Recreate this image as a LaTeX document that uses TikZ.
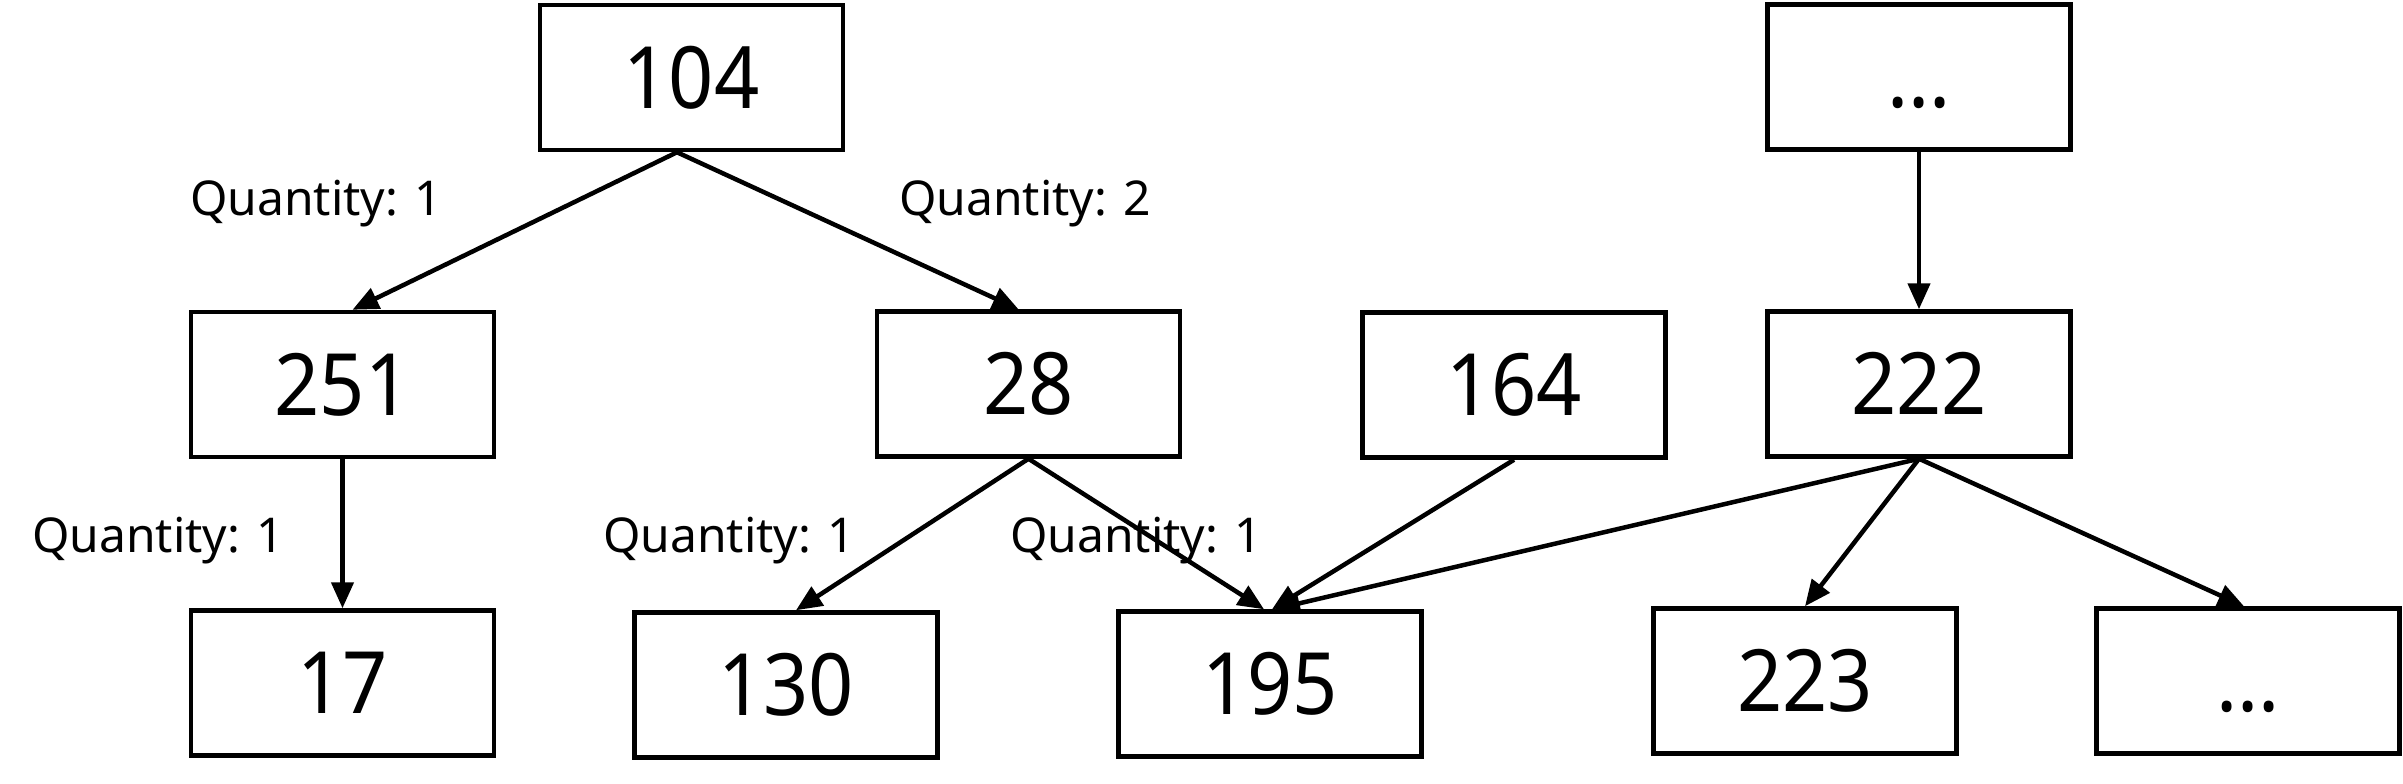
\documentclass[tikz,border=0pt]{standalone}
\usepackage{fontspec}
\setmainfont{Noto Sans}
\newfontfamily\numfont[FakeStretch=0.92]{Noto Sans}
\usetikzlibrary{arrows.meta,backgrounds}
\begin{document}
\begin{tikzpicture}[x=1pt,y=-1pt,
  box/.style={draw, fill=white, line width=4.5pt, minimum width=303pt, minimum height=145pt,
    inner sep=0pt, font=\numfont\fontsize{86}{94}\selectfont, text height=61pt, text depth=0pt},
  edge/.style={line width=4.5pt, -{Triangle[length=26pt,width=22pt]}},
  qty/.style={anchor=base west, inner sep=0pt, font=\fontsize{48}{56}\selectfont}]
\useasboundingbox (0,0) rectangle (2403,784);
\node[box] (n104) at (691.5,77.5) {104};
\node[box] (ntop) at (1919,77) {...};
\node[box] (n251) at (342.5,384.5) {251};
\node[box] (n28)  at (1028.5,384) {28};
\node[box] (n164) at (1514,385) {164};
\node[box] (n222) at (1919,384) {222};
\node[box] (n17)  at (342.5,683) {17};
\node[box] (n130) at (786,685) {130};
\node[box] (n195) at (1270,684) {195};
\node[box] (n223) at (1805,681) {223};
\node[box] (nbot) at (2248,681) {...};
\node[qty] (q1) at (190,215) {Quantity: 1};
\node[qty] (q2) at (899,215) {Quantity: 2};
\node[qty] (q3) at (32,552) {Quantity: 1};
\node[qty] (q4) at (603,552) {Quantity: 1};
\node[qty] (q5) at (1010,552) {Quantity: 1};
\begin{scope}[on background layer]
\draw[edge] ([xshift=-14.5pt]n104.south) -- ([xshift=10pt]n251.north);
\draw[edge] ([xshift=-14.5pt]n104.south) -- ([xshift=-10pt]n28.north);
\draw[edge] (n251.south) -- (n17.north);
\draw[edge] (n28.south) -- ([xshift=10pt]n130.north);
\draw[edge] (n28.south) -- ([xshift=-6pt]n195.north);
\draw[edge] (n164.south) -- ([xshift=2pt]n195.north);
\draw[edge] (n222.south) -- ([xshift=4pt]n195.north);
\draw[edge] (n222.south) -- (n223.north);
\draw[edge] (n222.south) -- ([xshift=-4pt]nbot.north);
\draw[edge] (ntop.south) -- (n222.north);
\end{scope}
\end{tikzpicture}
\end{document}
